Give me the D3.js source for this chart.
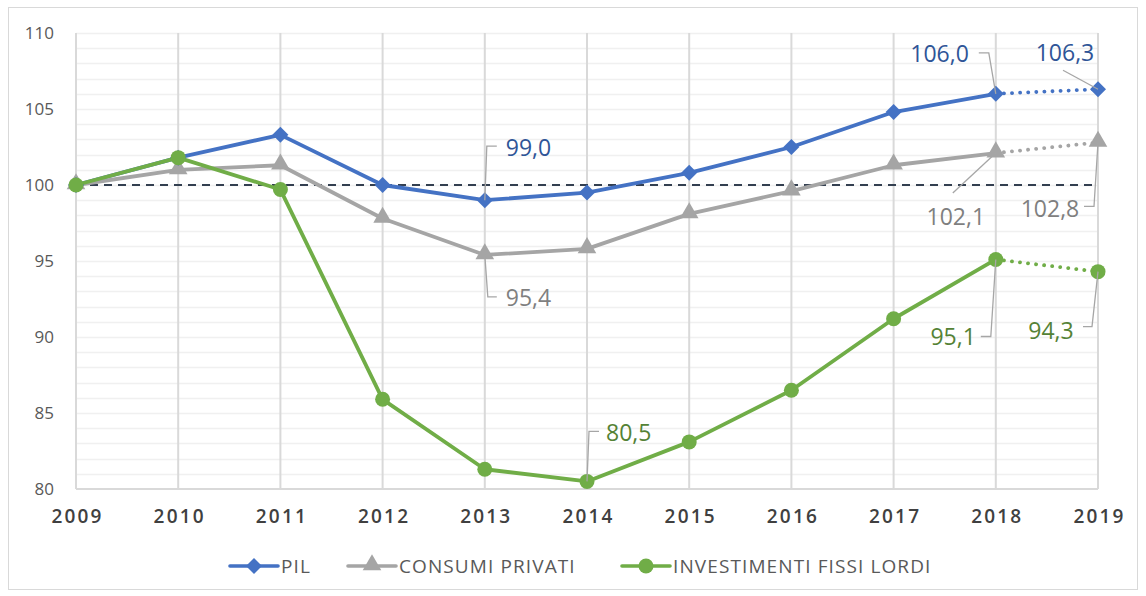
<!DOCTYPE html>
<html>
<head>
<meta charset="utf-8">
<script src="https://cdn.jsdelivr.net/npm/d3@7"></script>
<style>
  body { margin: 0; background: #fff; }
  svg { display: block; font-family: "Open Sans", "Noto Sans", sans-serif; }
</style>
</head>
<body>
<div id="chart"></div>
<script>
const years = [2009, 2010, 2011, 2012, 2013, 2014, 2015, 2016, 2017, 2018, 2019];
const pil = [100, 101.8, 103.3, 100.0, 99.0, 99.5, 100.8, 102.5, 104.8, 106.0, 106.3];
const consumi = [100, 101.0, 101.3, 97.8, 95.4, 95.8, 98.1, 99.6, 101.3, 102.1, 102.8];
const investimenti = [100, 101.8, 99.7, 85.9, 81.3, 80.5, 83.1, 86.5, 91.2, 95.1, 94.3];
const yTicks = [80, 85, 90, 95, 100, 105, 110];
const seriesNames = ["PIL", "CONSUMI PRIVATI", "INVESTIMENTI FISSI LORDI"];

// labelled points: series index, year index, label offsets and leader line
const labels = [
  { s: 0, i: 9, text: "106,0", dx: -27, dy: -41, anchor: "end", leader: [[-17, -41], [-7, -41], [0, 0]] },
  { s: 0, i: 10, text: "106,3", dx: -33, dy: -37, anchor: "middle", leader: [[-35, -19], [0, 0]] },
  { s: 0, i: 4, text: "99,0", dx: 21, dy: -53, anchor: "start", leader: [[12, -54], [2, -54], [0, 0]] },
  { s: 1, i: 4, text: "95,4", dx: 21, dy: 42, anchor: "start", leader: [[12, 42], [3, 42], [0, 0]] },
  { s: 2, i: 5, text: "80,5", dx: 19, dy: -49, anchor: "start", leader: [[12, -50], [2, -50], [0, 0]] },
  { s: 1, i: 9, text: "102,1", dx: -40, dy: 63, anchor: "middle", leader: [[-43, 40], [0, 0]] },
  { s: 1, i: 10, text: "102,8", dx: -48, dy: 66, anchor: "middle", leader: [[-14, 64], [-4, 64], [0, 0]] },
  { s: 2, i: 9, text: "95,1", dx: -20, dy: 77, anchor: "end", leader: [[-15, 77], [-5, 77], [0, 0]] },
  { s: 2, i: 10, text: "94,3", dx: -47, dy: 58, anchor: "middle", leader: [[-15, 55], [-6, 55], [0, 0]] }
];

const W = 1146, H = 596;
const margin = { top: 33, right: 48, bottom: 107, left: 76 };
const width = W - margin.left - margin.right;
const height = H - margin.top - margin.bottom;

const colors = ["#4472C4", "#A5A5A5", "#70AD47"];
const labelColors = ["#2F5597", "#7F7F7F", "#548235"];
const data = [pil, consumi, investimenti];

const svg = d3.select("#chart").append("svg").attr("width", W).attr("height", H);

svg.append("rect")
  .attr("x", 8.5).attr("y", 7.5).attr("width", W - 17).attr("height", H - 14)
  .attr("fill", "#fff").attr("stroke", "#d9d9d9");

const g = svg.append("g").attr("transform", `translate(${margin.left},${margin.top})`);

const x = d3.scaleLinear().domain([2009, 2019]).range([0, width]);
const y = d3.scaleLinear().domain([80, 110]).range([height, 0]);

// minor horizontal grid
g.append("g").selectAll("line").data(d3.range(81, 111))
  .join("line")
  .attr("x1", 0).attr("x2", width)
  .attr("y1", d => Math.round(y(d)) + 0.5).attr("y2", d => Math.round(y(d)) + 0.5)
  .attr("stroke", "#f0f0f0").attr("stroke-width", 1.5);

// vertical grid
g.append("g").selectAll("line").data(years)
  .join("line")
  .attr("x1", d => x(d)).attr("x2", d => x(d))
  .attr("y1", 0).attr("y2", height)
  .attr("stroke", "#d9d9d9").attr("stroke-width", 2);

// x axis baseline
g.append("line").attr("x1", 0).attr("x2", width).attr("y1", height).attr("y2", height)
  .attr("stroke", "#d9d9d9").attr("stroke-width", 2);

// y axis
const yAxis = g.append("g").call(d3.axisLeft(y).tickValues(yTicks).tickSize(0).tickPadding(22));
yAxis.select(".domain").remove();
yAxis.selectAll("text").attr("fill", "#595959").style("font-size", "17px")
  .style("font-family", "'Open Sans', sans-serif");

// x axis
const xAxis = g.append("g").attr("transform", `translate(0,${height})`)
  .call(d3.axisBottom(x).tickValues(years).tickFormat(d3.format("d")).tickSize(0).tickPadding(21));
xAxis.select(".domain").remove();
xAxis.selectAll("text").attr("fill", "#404040").style("font-size", "19px")
  .style("font-weight", "600").style("letter-spacing", "2.2px")
  .attr("dx", "1px")
  .style("font-family", "'Open Sans', sans-serif");

// 100 reference line
g.append("line").attr("x1", 0).attr("x2", width).attr("y1", y(100)).attr("y2", y(100))
  .attr("stroke", "#333F50").attr("stroke-width", 2).attr("stroke-dasharray", "8,6");

const triangle = d3.symbol().type(d3.symbolTriangle).size(150);

data.forEach((vals, s) => {
  g.append("path")
    .attr("d", d3.line().defined((d, i) => i <= 9).x((d, i) => x(years[i])).y(d => y(d))(vals))
    .attr("fill", "none").attr("stroke", colors[s]).attr("stroke-width", 3.8)
    .attr("stroke-linejoin", "round");
  // dotted segment 2018-2019
  g.append("path")
    .attr("d", d3.line().defined((d, i) => i >= 9).x((d, i) => x(years[i])).y(d => y(d))(vals))
    .attr("fill", "none").attr("stroke", colors[s]).attr("stroke-width", 3.8)
    .attr("stroke-linecap", "round").attr("stroke-dasharray", "0.1,8");
});

// markers
function drawMarker(sel, s, cx, cy) {
  if (s === 0) {
    sel.append("path").attr("d", "M0,-8L8,0L0,8L-8,0Z").attr("transform", `translate(${cx},${cy})`)
      .attr("fill", colors[0]);
  } else if (s === 1) {
    sel.append("path").attr("d", triangle).attr("transform", `translate(${cx},${cy - 1})`)
      .attr("fill", colors[1]);
  } else {
    sel.append("circle").attr("cx", cx).attr("cy", cy).attr("r", 7.5).attr("fill", colors[2]);
  }
}

[1, 0, 2].forEach(s => {
  const mg = g.append("g");
  data[s].forEach((v, i) => drawMarker(mg, s, x(years[i]), y(v)));
});

// data labels with leader lines
labels.forEach(l => {
  const px = x(years[l.i]), py = y(data[l.s][l.i]);
  g.append("path")
    .attr("d", d3.line()(l.leader.map(p => [px + p[0], py + p[1]])))
    .attr("fill", "none").attr("stroke", "#A6A6A6").attr("stroke-width", 1.3);
  g.append("text")
    .attr("x", px + l.dx).attr("y", py + l.dy)
    .attr("text-anchor", l.anchor).attr("dominant-baseline", "central")
    .attr("fill", labelColors[l.s])
    .style("font-size", "23px")
    .text(l.text);
});

// legend
const legend = svg.append("g").attr("transform", "translate(0,566)");
const legendX = [230, 348, 622];
seriesNames.forEach((name, s) => {
  const lx = legendX[s];
  legend.append("line").attr("x1", lx).attr("x2", lx + 48).attr("y1", 0).attr("y2", 0)
    .attr("stroke", colors[s]).attr("stroke-width", 3.6).attr("stroke-linecap", "round");
  drawMarker(legend, s, lx + 24, 0);
  legend.append("text").attr("x", lx + 51).attr("y", 0).attr("dominant-baseline", "central")
    .attr("fill", "#595959").style("font-size", "19px").style("letter-spacing", "1.1px")
    .style("font-family", "'Open Sans', sans-serif")
    .text(name);
});
</script>
</body>
</html>
